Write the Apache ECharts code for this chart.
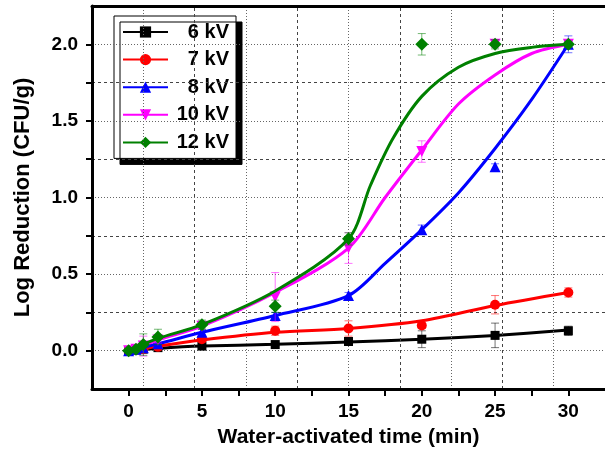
<!DOCTYPE html>
<html>
<head>
<meta charset="utf-8">
<script src="https://cdn.jsdelivr.net/npm/echarts@6/dist/echarts.min.js"></script>
<style>html,body{margin:0;padding:0;background:#fff}#main{width:605px;height:461px}</style>
</head>
<body>
<div id="main"></div>
<script>
// legend names, colours, markers
var names = ['6 kV', '7 kV', '8 kV', '10 kV', '12 kV'];
var colors = ['#000000', '#ff0000', '#0000ff', '#ff00ff', '#008000'];
var symbols = ['rect', 'circle', 'triangle', 'triangle', 'diamond'];
var symbolSizes = [9, 10, 11, 11, 13];
var symbolRotates = [0, 0, 0, 180, 0];

// measured points (min)
var times = [0, 0.5, 1, 2, 5, 10, 15, 20, 25, 30];
var kv6 = [0, 0.005, 0.01, 0.02, 0.03, 0.04, 0.06, 0.075, 0.10, 0.13];
var kv6Err = [0.01, 0.01, 0.01, 0.01, 0.01, 0.01, 0.015, 0.055, 0.08, 0.03];
var kv7 = [0, 0.005, 0.01, 0.025, 0.075, 0.13, 0.145, 0.165, 0.30, 0.38];
var kv7Err = [0.01, 0.01, 0.01, 0.01, 0.01, 0.03, 0.05, 0.02, 0.06, 0.03];
var kv8 = [0, 0.01, 0.02, 0.045, 0.12, 0.23, 0.36, 0.79, 1.2, 2.0];
var kv8Err = [0.01, 0.01, 0.02, 0.01, 0.02, 0.02, 0.02, 0.03, 0.02, 0.055];
var kv10 = [0, 0.01, 0.03, 0.07, 0.16, 0.35, 0.67, 1.30, 2.0, 2.0];
var kv10Err = [0.01, 0.01, 0.065, 0.02, 0.02, 0.16, 0.10, 0.07, 0.02, 0.02];
var kv12 = [0, 0.01, 0.04, 0.09, 0.17, 0.29, 0.73, 2.0, 2.0, 2.0];
var kv12Err = [0.01, 0.01, 0.07, 0.05, 0.03, 0.04, 0.04, 0.07, 0.03, 0.02];

// fitted curves
var fit6X = [0, 2, 5, 10, 15, 20, 25, 30];
var fit6Y = [0, 0.015, 0.03, 0.042, 0.057, 0.074, 0.10, 0.135];
var fit7X = [0, 1, 2, 5, 10, 15, 20, 25, 30];
var fit7Y = [0, 0.012, 0.03, 0.07, 0.12, 0.145, 0.195, 0.295, 0.38];
var fit8X = [0, 2, 5, 10, 15, 17.5, 20, 22.5, 25, 27.5, 30];
var fit8Y = [0, 0.045, 0.12, 0.23, 0.36, 0.57, 0.79, 1.03, 1.32, 1.64, 2.0];
var fit10X = [0, 2, 5, 10, 15, 17.5, 20, 22.5, 25, 27.5, 30];
var fit10Y = [0, 0.07, 0.16, 0.38, 0.67, 1.0, 1.31, 1.61, 1.80, 1.94, 2.0];
var fit12X = [0, 2, 5, 10, 15, 16.5, 18, 20, 22.5, 25, 27.5, 30];
var fit12Y = [0, 0.08, 0.17, 0.39, 0.73, 1.08, 1.38, 1.66, 1.85, 1.94, 1.98, 2.0];

// axis ticks and grid lines
var xMin = -2.5, xMax = 32.5, xStep = 2.5;   // labels only on multiples of 5
var yMin = -0.25, yMax = 2.25, yStep = 0.25; // labels only on multiples of 0.5
var gridDottedX = [1, 8, 15, 22, 29];
var gridDashedX = [4.5, 11.5, 18.5, 25.5];
var gridDottedY = [0, 0.5, 1.0, 1.5, 2.0];
var gridDashedY = [0.25, 0.75, 1.25, 1.75];

var pts = [kv6, kv7, kv8, kv10, kv12];
var errs = [kv6Err, kv7Err, kv8Err, kv10Err, kv12Err];
var fitX = [fit6X, fit7X, fit8X, fit10X, fit12X];
var fitY = [fit6Y, fit7Y, fit8Y, fit10Y, fit12Y];

function zip(a, b, c) {
    var res = [];
    for (var i = 0; i < a.length; i++) {
        res.push(c ? [a[i], b[i], c[i]] : [a[i], b[i]]);
    }
    return res;
}
function isMult(v, m) {
    var r = v / m;
    return Math.abs(r - Math.round(r)) < 1e-6;
}

var font = 'Liberation Sans, Arial, sans-serif';

var gridLines = [];
gridDottedX.forEach(function (v) { gridLines.push({xAxis: v, lineStyle: {type: [1, 2], color: '#666'}}); });
gridDashedX.forEach(function (v) { gridLines.push({xAxis: v, lineStyle: {type: [3, 3], color: '#444'}}); });
gridDottedY.forEach(function (v) { gridLines.push({yAxis: v, lineStyle: {type: [1, 2], color: '#666'}}); });
gridDashedY.forEach(function (v) { gridLines.push({yAxis: v, lineStyle: {type: [3, 3], color: '#444'}}); });

var series = [{
    type: 'line',
    data: [],
    z: 1,
    silent: true,
    markLine: {
        silent: true,
        symbol: ['none', 'none'],
        label: {show: false},
        lineStyle: {width: 1},
        animation: false,
        data: gridLines
    }
}];

for (var k = 0; k < names.length; k++) {
    (function (k) {
        var col = colors[k];
        series.push({
            name: names[k],
            type: 'line',
            data: zip(fitX[k], fitY[k]),
            smooth: 0.3,
            showSymbol: false,
            symbol: symbols[k],
            symbolSize: symbolSizes[k],
            symbolRotate: symbolRotates[k],
            lineStyle: {color: col, width: 3},
            itemStyle: {color: col},
            z: 3 + k * 3,
            silent: true
        });
        series.push({
            name: names[k] + ' err',
            type: 'custom',
            data: zip(times, pts[k], errs[k]),
            encode: {x: 0, y: 1},
            z: 4 + k * 3,
            silent: true,
            renderItem: function (params, api) {
                var x = api.value(0), y = api.value(1), e = api.value(2);
                var hi = api.coord([x, y + e]);
                var lo = api.coord([x, y - e]);
                var w = 4;
                var st = {stroke: col, lineWidth: 1, opacity: 0.55};
                return {
                    type: 'group',
                    children: [
                        {type: 'line', shape: {x1: hi[0], y1: hi[1], x2: lo[0], y2: lo[1]}, style: st},
                        {type: 'line', shape: {x1: hi[0] - w, y1: hi[1], x2: hi[0] + w, y2: hi[1]}, style: st},
                        {type: 'line', shape: {x1: lo[0] - w, y1: lo[1], x2: lo[0] + w, y2: lo[1]}, style: st}
                    ]
                };
            }
        });
        series.push({
            name: names[k] + ' pts',
            type: 'scatter',
            data: zip(times, pts[k]),
            symbol: symbols[k],
            symbolSize: symbolSizes[k],
            symbolRotate: symbolRotates[k],
            itemStyle: {color: col, opacity: 1},
            z: 5 + k * 3,
            silent: true
        });
    })(k);
}

var myChart = echarts.init(document.getElementById('main'));
var option = {
    animation: false,
    backgroundColor: '#fff',
    grid: {left: 92, right: -8, top: 6, bottom: 72, containLabel: false},
    legend: {
        data: names,
        orient: 'vertical',
        left: 114,
        top: 16,
        itemWidth: 45,
        itemHeight: 14,
        itemGap: 7.6,
        padding: [6, 7, 6, 8],
        backgroundColor: '#fff',
        borderColor: '#000',
        borderWidth: 1,
        shadowColor: '#000',
        shadowOffsetX: 6,
        shadowOffsetY: 6,
        shadowBlur: 0,
        selectedMode: false,
        formatter: function (n) { return '{a|' + n + '}'; },
        textStyle: {
            rich: {a: {width: 56, align: 'right', fontSize: 20, lineHeight: 20, fontWeight: 'bold', fontFamily: font, color: '#000'}}
        }
    },
    xAxis: [{
        type: 'value',
        min: xMin,
        max: xMax,
        interval: xStep,
        z: 10,
        position: 'bottom',
        name: 'Water-activated time (min)',
        nameLocation: 'middle',
        nameGap: 38,
        nameTextStyle: {fontSize: 21, fontWeight: 'bold', fontFamily: font, color: '#000'},
        axisLine: {onZero: false, lineStyle: {color: '#000', width: 3}},
        axisTick: {length: 7, lineStyle: {width: 2, color: '#000'}},
        axisLabel: {
            margin: 13, fontSize: 19, fontWeight: 'bold', fontFamily: font, color: '#000',
            showMinLabel: false, showMaxLabel: false,
            formatter: function (v) { return isMult(v, 5) ? String(v) : ''; }
        },
        splitLine: {show: false}
    }, {
        type: 'value',
        min: xMin,
        max: xMax,
        z: 10,
        position: 'top',
        axisLine: {onZero: false, lineStyle: {color: '#000', width: 3}},
        axisTick: {show: false},
        axisLabel: {show: false},
        splitLine: {show: false}
    }],
    yAxis: [{
        type: 'value',
        min: yMin,
        max: yMax,
        interval: yStep,
        z: 10,
        position: 'left',
        name: 'Log Reduction (CFU/g)',
        nameLocation: 'middle',
        nameGap: 58,
        nameTextStyle: {fontSize: 22, fontWeight: 'bold', fontFamily: font, color: '#000'},
        axisLine: {onZero: false, lineStyle: {color: '#000', width: 3}},
        axisTick: {length: 6, lineStyle: {width: 2, color: '#000'}},
        axisLabel: {
            margin: 14, fontSize: 19, fontWeight: 'bold', fontFamily: font, color: '#000',
            showMinLabel: false, showMaxLabel: false,
            formatter: function (v) { return isMult(v, 0.5) ? v.toFixed(1) : ''; }
        },
        splitLine: {show: false}
    }],
    series: series
};
myChart.setOption(option);
</script>
</body>
</html>
